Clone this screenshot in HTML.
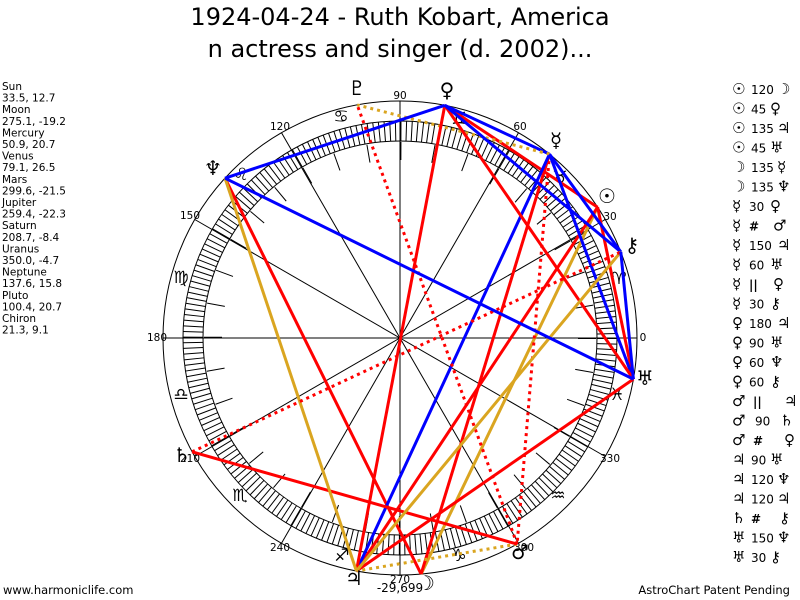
<!DOCTYPE html>
<html><head><meta charset="utf-8"><style>
html,body{margin:0;padding:0;background:#fff;}
body{width:800px;height:600px;overflow:hidden;position:relative;font-family:"DejaVu Sans",sans-serif;}
svg{position:absolute;left:0;top:0;}
</style></head><body>
<svg width="800" height="600" viewBox="0 0 800 600" xmlns="http://www.w3.org/2000/svg">
<text x="400" y="25" font-size="24" text-anchor="middle" font-family="DejaVu Sans, sans-serif">1924-04-24 - Ruth Kobart, America</text>
<text x="400" y="57" font-size="24" text-anchor="middle" font-family="DejaVu Sans, sans-serif">n actress and singer (d. 2002)...</text>

<g font-family="DejaVu Sans, sans-serif" font-size="10.5" fill="#000">
<text x="2" y="90">Sun</text><text x="2" y="101.6">33.5, 12.7</text>
<text x="2" y="113.2">Moon</text><text x="2" y="124.8">275.1, -19.2</text>
<text x="2" y="136.4">Mercury</text><text x="2" y="148">50.9, 20.7</text>
<text x="2" y="159.6">Venus</text><text x="2" y="171.2">79.1, 26.5</text>
<text x="2" y="182.8">Mars</text><text x="2" y="194.4">299.6, -21.5</text>
<text x="2" y="206">Jupiter</text><text x="2" y="217.6">259.4, -22.3</text>
<text x="2" y="229.2">Saturn</text><text x="2" y="240.8">208.7, -8.4</text>
<text x="2" y="252.4">Uranus</text><text x="2" y="264">350.0, -4.7</text>
<text x="2" y="275.6">Neptune</text><text x="2" y="287.2">137.6, 15.8</text>
<text x="2" y="298.8">Pluto</text><text x="2" y="310.4">100.4, 20.7</text>
<text x="2" y="322">Chiron</text><text x="2" y="333.6">21.3, 9.1</text>
</g>

<g fill="none" stroke="#000" stroke-width="1">
<circle cx="400" cy="338" r="237"/>
<circle cx="400" cy="338" r="217"/>
<circle cx="400" cy="338" r="197"/>
<circle cx="400" cy="338" r="207" stroke-width="20" stroke-dasharray="1 4.42"/>
<circle cx="400" cy="338" r="187" stroke-width="18" stroke-dasharray="1 31.64"/>
<line x1="163" y1="338" x2="637" y2="338"/>
<line x1="400" y1="101" x2="400" y2="575"/>
<line x1="605.2" y1="219.5" x2="194.8" y2="456.5"/>
<line x1="518.5" y1="132.8" x2="281.5" y2="543.2"/>
<line x1="281.5" y1="132.8" x2="518.5" y2="543.2"/>
<line x1="194.8" y1="219.5" x2="605.2" y2="456.5"/>
</g>

<g font-family="DejaVu Sans, sans-serif" font-size="10.5" text-anchor="middle" dominant-baseline="central">
<text x="643" y="338">0</text><text x="610" y="217">30</text><text x="520" y="127">60</text>
<text x="400" y="96">90</text><text x="280" y="127">120</text><text x="190" y="216">150</text>
<text x="157" y="338">180</text><text x="190" y="459">210</text><text x="280" y="548">240</text>
<text x="400" y="580">270</text><text x="524" y="548">300</text><text x="610" y="459">330</text>
</g>

<g font-family="DejaVu Sans, sans-serif" font-size="17" text-anchor="middle" dominant-baseline="central">
<text x="619" y="279">♈</text><text x="560" y="178">♉</text><text x="459" y="119">♊</text>
<text x="341" y="117">♋</text><text x="241" y="175">♌</text><text x="181" y="278">♍</text>
<text x="181" y="395">♎</text><text x="240" y="496">♏</text><text x="342" y="556">♐</text>
<text x="459" y="556">♑</text><text x="558" y="496">♒</text><text x="617" y="395">♓</text>
</g>

<g stroke-width="3" fill="none" stroke-linecap="butt">
<line x1="597.6" y1="207.2" x2="421.1" y2="574.1" stroke="#daa520"/>
<line x1="597.6" y1="207.2" x2="444.8" y2="105.3" stroke="#f00"/>
<line x1="597.6" y1="207.2" x2="356.4" y2="571" stroke="#f00"/>
<line x1="597.6" y1="207.2" x2="633.4" y2="379.1" stroke="#f00"/>
<line x1="421.1" y1="574.1" x2="549.5" y2="154.1" stroke="#f00"/>
<line x1="421.1" y1="574.1" x2="225" y2="178.2" stroke="#f00"/>
<line x1="549.5" y1="154.1" x2="444.8" y2="105.3" stroke="#00f"/>
<line x1="549.5" y1="154.1" x2="517.1" y2="544.1" stroke="#f00" stroke-dasharray="3 4"/>
<line x1="549.5" y1="154.1" x2="356.4" y2="571" stroke="#00f"/>
<line x1="549.5" y1="154.1" x2="633.4" y2="379.1" stroke="#00f"/>
<line x1="549.5" y1="154.1" x2="357.2" y2="104.9" stroke="#daa520" stroke-dasharray="3 4"/>
<line x1="549.5" y1="154.1" x2="620.8" y2="251.9" stroke="#00f"/>
<line x1="444.8" y1="105.3" x2="356.4" y2="571" stroke="#f00"/>
<line x1="444.8" y1="105.3" x2="633.4" y2="379.1" stroke="#f00"/>
<line x1="444.8" y1="105.3" x2="225" y2="178.2" stroke="#00f"/>
<line x1="444.8" y1="105.3" x2="620.8" y2="251.9" stroke="#00f"/>
<line x1="517.1" y1="544.1" x2="356.4" y2="571" stroke="#daa520" stroke-dasharray="3 4"/>
<line x1="517.1" y1="544.1" x2="192.1" y2="451.8" stroke="#f00"/>
<line x1="517.1" y1="544.1" x2="357.2" y2="104.9" stroke="#f00" stroke-dasharray="3 4"/>
<line x1="356.4" y1="571" x2="633.4" y2="379.1" stroke="#f00"/>
<line x1="356.4" y1="571" x2="225" y2="178.2" stroke="#daa520"/>
<line x1="356.4" y1="571" x2="620.8" y2="251.9" stroke="#daa520"/>
<line x1="192.1" y1="451.8" x2="620.8" y2="251.9" stroke="#f00" stroke-dasharray="3 4"/>
<line x1="633.4" y1="379.1" x2="225" y2="178.2" stroke="#00f"/>
<line x1="633.4" y1="379.1" x2="620.8" y2="251.9" stroke="#00f"/>
</g>

<g font-family="DejaVu Sans, sans-serif" font-size="20" text-anchor="middle" dominant-baseline="central">
<text x="357" y="88">♇</text><text x="447" y="90">♀</text><text x="556" y="140">☿</text>
<text x="607" y="196">☉</text><text x="632" y="245">⚷</text><text x="645" y="378">♅</text>
<text x="426" y="583">☽</text><text x="354" y="578">♃</text><text x="520" y="552">♂</text>
<text x="182" y="455">♄</text><text x="213" y="168">♆</text>
</g>
<text x="400" y="592" font-size="12" text-anchor="middle" font-family="DejaVu Sans, sans-serif">-29,699</text>

<g font-family="DejaVu Sans, sans-serif" fill="#000">
<g font-size="15">
<text x="732" y="94">☉</text><text x="732" y="113.5">☉</text><text x="732" y="133">☉</text><text x="732" y="152.5">☉</text>
<text x="732" y="172">☽</text><text x="732" y="191.5">☽</text><text x="732" y="211">☿</text><text x="732" y="230.5">☿</text>
<text x="732" y="250">☿</text><text x="732" y="269.5">☿</text><text x="732" y="289">☿</text><text x="732" y="308.5">☿</text>
<text x="732" y="328">♀</text><text x="732" y="347.5">♀</text><text x="732" y="367">♀</text><text x="732" y="386.5">♀</text>
<text x="732" y="406">♂</text><text x="732" y="425.5">♂</text><text x="732" y="445">♂</text><text x="732" y="464.5">♃</text>
<text x="732" y="484">♃</text><text x="732" y="503.5">♃</text><text x="732" y="523">♄</text><text x="732" y="542.5">♅</text>
<text x="732" y="562">♅</text>
<text x="777" y="94">☽</text><text x="770" y="113.5">♀</text><text x="777" y="133">♃</text><text x="770" y="152.5">♅</text>
<text x="777" y="172">☿</text><text x="777" y="191.5">♆</text><text x="770" y="211">♀</text><text x="773" y="230.5">♂</text>
<text x="777" y="250">♃</text><text x="770" y="269.5">♅</text><text x="773" y="289">♀</text><text x="770" y="308.5">⚷</text>
<text x="777" y="328">♃</text><text x="770" y="347.5">♅</text><text x="770" y="367">♆</text><text x="770" y="386.5">⚷</text>
<text x="784" y="406">♃</text><text x="780" y="425.5">♄</text><text x="784" y="445">♀</text><text x="770" y="464.5">♅</text>
<text x="777" y="484">♆</text><text x="777" y="503.5">♃</text><text x="779" y="523">⚷</text><text x="777" y="542.5">♆</text>
<text x="770" y="562">⚷</text>
</g>
<g font-size="12">
<text x="751" y="94">120</text><text x="751" y="113.5">45</text><text x="751" y="133">135</text><text x="751" y="152.5">45</text>
<text x="751" y="172">135</text><text x="751" y="191.5">135</text><text x="749" y="211">30</text><text x="749" y="230.5" font-weight="bold">#</text>
<text x="749" y="250">150</text><text x="749" y="269.5">60</text><text x="749" y="289" font-weight="bold">||</text><text x="749" y="308.5">30</text>
<text x="749" y="328">180</text><text x="749" y="347.5">90</text><text x="749" y="367">60</text><text x="749" y="386.5">60</text>
<text x="753" y="406" font-weight="bold">||</text><text x="755" y="425.5">90</text><text x="753" y="445" font-weight="bold">#</text><text x="751" y="464.5">90</text>
<text x="751" y="484">120</text><text x="751" y="503.5">120</text><text x="751" y="523" font-weight="bold">#</text><text x="751" y="542.5">150</text>
<text x="751" y="562">30</text>
</g>
</g>

<text x="3" y="594" font-size="11.5" font-family="DejaVu Sans, sans-serif">www.harmoniclife.com</text>
<text x="790" y="594" font-size="11.5" text-anchor="end" font-family="DejaVu Sans, sans-serif">AstroChart Patent Pending</text>
</svg>
</body></html>
